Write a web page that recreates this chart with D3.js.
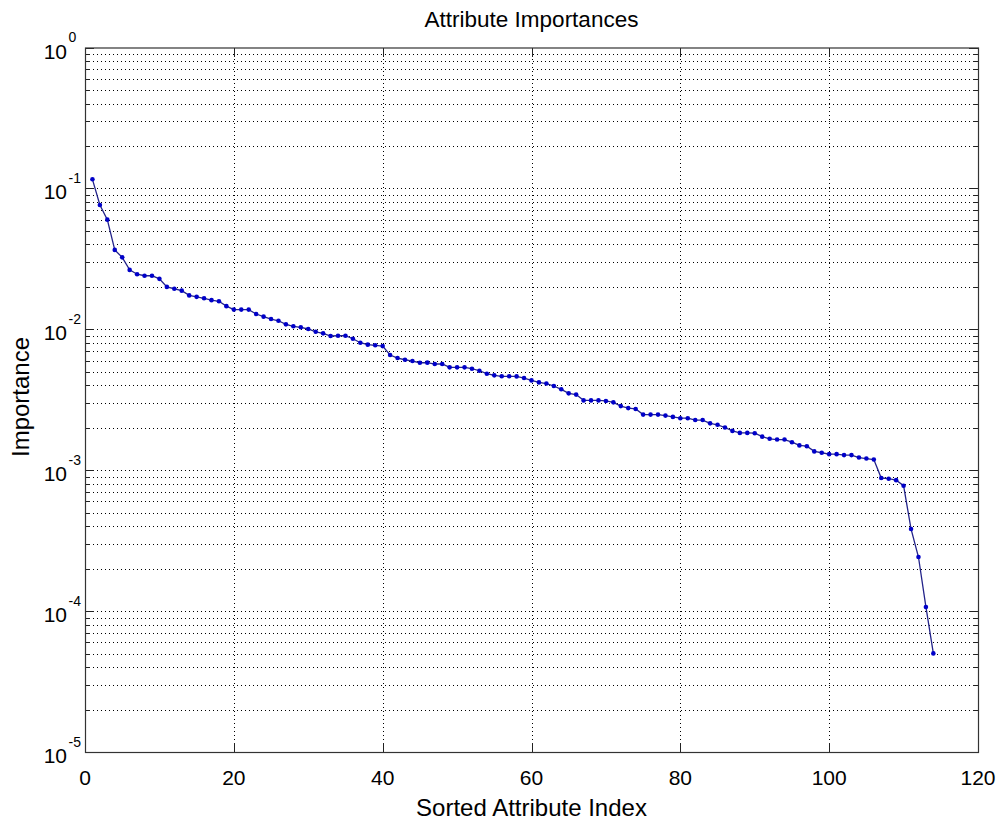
<!DOCTYPE html>
<html>
<head>
<meta charset="utf-8">
<script src="https://cdn.jsdelivr.net/npm/d3@7"></script>
<style>
  body { margin: 0; background: #fff; }
  text { font-family: "Liberation Sans", Arial, sans-serif; fill: #000; }
</style>
</head>
<body>
<svg id="chart" width="1001" height="820"></svg>
<script>
// sorted attribute importances (index 1..114)
const importances = [
  0.116, 0.0762, 0.060, 0.0366, 0.0324, 0.0264, 0.0246, 0.0240, 0.0240, 0.0228,
  0.0200, 0.0194, 0.0188, 0.0174, 0.0170, 0.0166, 0.0161, 0.0158, 0.0146, 0.0138,
  0.0138, 0.0138, 0.01284, 0.0123, 0.01183, 0.0115, 0.01084, 0.0105, 0.01033, 0.01005,
  0.0096, 0.00936, 0.00896, 0.0090, 0.0090, 0.00857, 0.00803, 0.00778, 0.0077, 0.0076,
  0.00657, 0.00625, 0.00608, 0.00595, 0.00579, 0.0058, 0.00567, 0.00567, 0.00537, 0.00537,
  0.00537, 0.00525, 0.00508, 0.00484, 0.00471, 0.00464, 0.00464, 0.00463, 0.00451, 0.00434,
  0.0042, 0.00412, 0.00396, 0.00375, 0.00351, 0.00344, 0.00313, 0.00313, 0.00313, 0.0031,
  0.00303, 0.00285, 0.00276, 0.00272, 0.00248, 0.00248, 0.00248, 0.00244, 0.00239, 0.00234,
  0.00234, 0.00227, 0.00227, 0.00215, 0.0021, 0.00201, 0.0019, 0.00184, 0.00184, 0.00183,
  0.00173, 0.00167, 0.00165, 0.00165, 0.00158, 0.0015, 0.00148, 0.00136, 0.00133, 0.0013,
  0.0013, 0.00128, 0.00128, 0.00123, 0.00121, 0.00119, 0.00088, 0.00087, 0.00085, 0.000776,
  0.000383, 0.000242, 0.000107, 0.0000501
];
const xTicks = [0, 20, 40, 60, 80, 100, 120];
const yExponents = [-5, -4, -3, -2, -1, 0];

const margin = { left: 85, right: 23, top: 47.5, bottom: 68 };
const width = 1001, height = 820;

const svg = d3.select('#chart');

const x = d3.scaleLinear()
  .domain([0, 120])
  .range([margin.left, width - margin.right]);

const y = d3.scaleLog()
  .domain([1e-5, 1])
  .range([height - margin.bottom, margin.top]);

const x0 = x.range()[0], x1 = x.range()[1];
const y0 = y.range()[0], y1 = y.range()[1];

// minor log grid values (2..9 in each decade)
let minorVals = [];
for (let e = -5; e < 0; e++) {
  for (let m = 2; m <= 9; m++) {
    minorVals.push(m * Math.pow(10, e));
  }
}
let majorVals = yExponents.map(function (e) { return Math.pow(10, e); });

let grid = svg.append('g')
  .attr('stroke', '#000')
  .attr('stroke-width', 1)
  .attr('stroke-dasharray', '1,3')
  .attr('shape-rendering', 'crispEdges');

// horizontal grid lines (major + minor)
grid.selectAll('.hgrid')
  .data(minorVals.concat(majorVals.slice(1, -1)))
  .enter()
  .append('line')
  .attr('x1', x0).attr('x2', x1)
  .attr('y1', function (d) { return Math.round(y(d)) + 0.5; })
  .attr('y2', function (d) { return Math.round(y(d)) + 0.5; });

// vertical grid lines
grid.selectAll('.vgrid')
  .data(xTicks.slice(1, -1))
  .enter()
  .append('line')
  .attr('y1', y0).attr('y2', y1)
  .attr('x1', function (d) { return Math.round(x(d)) + 0.5; })
  .attr('x2', function (d) { return Math.round(x(d)) + 0.5; });

// ticks (inside, on all four sides)
let ticks = svg.append('g')
  .attr('stroke', '#222')
  .attr('stroke-width', 1)
  .attr('shape-rendering', 'crispEdges');

xTicks.forEach(function (d) {
  let px = Math.round(x(d)) + 0.5;
  ticks.append('line').attr('x1', px).attr('x2', px).attr('y1', y0).attr('y2', y0 - 9);
  ticks.append('line').attr('x1', px).attr('x2', px).attr('y1', y1).attr('y2', y1 + 9);
});
majorVals.forEach(function (d) {
  let py = Math.round(y(d)) + 0.5;
  ticks.append('line').attr('x1', x0).attr('x2', x0 + 9).attr('y1', py).attr('y2', py);
  ticks.append('line').attr('x1', x1).attr('x2', x1 - 9).attr('y1', py).attr('y2', py);
});
minorVals.forEach(function (d) {
  let py = Math.round(y(d)) + 0.5;
  ticks.append('line').attr('x1', x0).attr('x2', x0 + 5).attr('y1', py).attr('y2', py);
  ticks.append('line').attr('x1', x1).attr('x2', x1 - 5).attr('y1', py).attr('y2', py);
});

// axes box
svg.append('rect')
  .attr('x', x0 + 0.5)
  .attr('y', y1 + 0.5)
  .attr('width', x1 - x0)
  .attr('height', y0 - y1)
  .attr('fill', 'none')
  .attr('stroke', '#333')
  .attr('stroke-width', 1.2);

// x tick labels
svg.selectAll('.xlab')
  .data(xTicks)
  .enter()
  .append('text')
  .attr('x', function (d) { return x(d); })
  .attr('y', y0 + 33)
  .attr('text-anchor', 'middle')
  .style('font-size', '21px')
  .text(function (d) { return d; });

// y tick labels: 10 with superscript exponent
let ylab = svg.selectAll('.ylab')
  .data(yExponents)
  .enter()
  .append('g')
  .attr('transform', function (d) {
    return 'translate(' + (x0 - 18) + ',' + (y(Math.pow(10, d)) + 11) + ')';
  });

ylab.append('text')
  .attr('text-anchor', 'end')
  .style('font-size', '21px')
  .text('10');

ylab.append('text')
  .attr('x', 1.5)
  .attr('y', -16.5)
  .style('font-size', '14px')
  .text(function (d) { return d; });

// line
let line = d3.line()
  .x(function (d, i) { return x(i + 1); })
  .y(function (d) { return y(d); });

svg.append('path')
  .datum(importances)
  .attr('d', line)
  .attr('fill', 'none')
  .attr('stroke', '#23238a')
  .attr('stroke-width', 1.3);

svg.selectAll('.pt')
  .data(importances)
  .enter()
  .append('circle')
  .attr('cx', function (d, i) { return x(i + 1); })
  .attr('cy', function (d) { return y(d); })
  .attr('r', 2.3)
  .attr('fill', '#0000c8');

// title and axis labels
svg.append('text')
  .attr('x', (x0 + x1) / 2)
  .attr('y', 27)
  .attr('text-anchor', 'middle')
  .style('font-size', '22.5px')
  .text('Attribute Importances');

svg.append('text')
  .attr('x', (x0 + x1) / 2)
  .attr('y', 816)
  .attr('text-anchor', 'middle')
  .style('font-size', '24px')
  .text('Sorted Attribute Index');

svg.append('text')
  .attr('transform', 'translate(29,' + 397 + ') rotate(-90)')
  .attr('text-anchor', 'middle')
  .style('font-size', '24px')
  .text('Importance');
</script>
</body>
</html>
